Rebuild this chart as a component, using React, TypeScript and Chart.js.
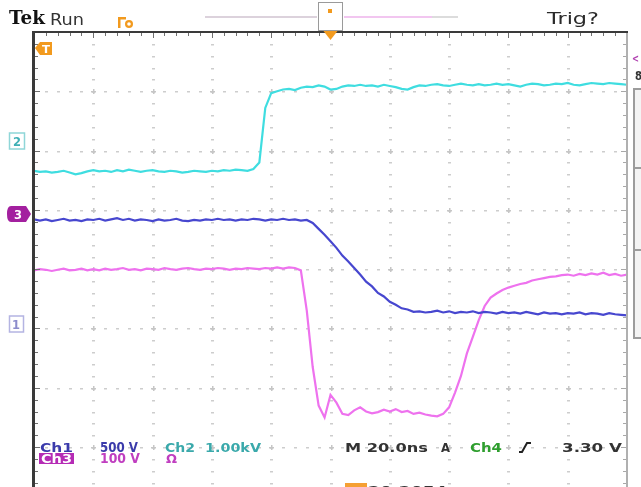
import React, { useEffect, useRef } from "react";
import { Chart, registerables } from "chart.js";

Chart.register(...registerables);

// time axis (ns), 20 ns / division, 10 divisions
const timeNs = [
  0, 2, 4, 6, 8, 10, 12, 14, 16, 18,
  20, 22, 24, 26, 28, 30, 32, 34, 36, 38,
  40, 42, 44, 46, 48, 50, 52, 54, 56, 58,
  60, 62, 64, 66, 68, 70, 72, 74, 76, 78,
  80, 82, 84, 86, 88, 90, 92, 94, 96, 98,
  100, 102, 104, 106, 108, 110, 112, 114, 116, 118,
  120, 122, 124, 126, 128, 130, 132, 134, 136, 138,
  140, 142, 144, 146, 148, 150, 152, 154, 156, 158,
  160, 162, 164, 166, 168, 170, 172, 174, 176, 178,
  180, 182, 184, 186, 188, 190, 192, 194, 196, 198,
  200,
];

// screen position of each trace, in divisions from centre
const ch2Cyan = [
  1.66, 1.64, 1.65, 1.63, 1.64, 1.66, 1.63, 1.60, 1.62, 1.65,
  1.67, 1.65, 1.66, 1.64, 1.67, 1.65, 1.68, 1.66, 1.64, 1.66,
  1.67, 1.65, 1.64, 1.66, 1.65, 1.63, 1.64, 1.66, 1.65, 1.64,
  1.66, 1.65, 1.67, 1.66, 1.68, 1.67, 1.66, 1.69, 1.80, 2.72,
  2.97, 3.00, 3.03, 3.04, 3.02, 3.06, 3.08, 3.07, 3.10, 3.08,
  3.03, 3.04, 3.08, 3.10, 3.09, 3.11, 3.09, 3.10, 3.08, 3.11,
  3.09, 3.07, 3.04, 3.03, 3.07, 3.10, 3.09, 3.11, 3.12, 3.10,
  3.09, 3.11, 3.13, 3.11, 3.10, 3.12, 3.10, 3.11, 3.13, 3.11,
  3.12, 3.10, 3.08, 3.11, 3.13, 3.12, 3.10, 3.11, 3.13, 3.12,
  3.14, 3.11, 3.10, 3.12, 3.14, 3.13, 3.12, 3.14, 3.13, 3.12,
  3.11,
];

const ch1Blue = [
  0.84, 0.82, 0.84, 0.81, 0.83, 0.85, 0.82, 0.83, 0.81, 0.84,
  0.83, 0.85, 0.82, 0.84, 0.86, 0.83, 0.85, 0.82, 0.84, 0.83,
  0.81, 0.84, 0.82, 0.83, 0.85, 0.82, 0.81, 0.83, 0.82, 0.84,
  0.83, 0.85, 0.83, 0.84, 0.82, 0.84, 0.83, 0.85, 0.84, 0.82,
  0.84, 0.83, 0.85, 0.83, 0.84, 0.82, 0.83, 0.78, 0.68, 0.58,
  0.47, 0.36, 0.23, 0.13, 0.02, -0.09, -0.21, -0.29, -0.40, -0.46,
  -0.55, -0.60, -0.66, -0.68, -0.72, -0.71, -0.73, -0.72, -0.70, -0.73,
  -0.71, -0.74, -0.72, -0.73, -0.71, -0.74, -0.72, -0.73, -0.75, -0.72,
  -0.74, -0.73, -0.75, -0.72, -0.74, -0.76, -0.73, -0.75, -0.74, -0.76,
  -0.74, -0.75, -0.73, -0.76, -0.74, -0.75, -0.77, -0.74, -0.76, -0.77,
  -0.78,
];

const ch3Magenta = [
  -0.02, 0.00, -0.01, -0.03, -0.01, 0.01, -0.02, -0.01, 0.01, -0.02,
  0.00, -0.02, 0.01, -0.01, 0.00, 0.02, -0.01, 0.00, -0.02, 0.01,
  0.00, -0.01, 0.02, 0.00, -0.01, 0.01, 0.02, 0.00, -0.01, 0.01,
  0.00, 0.02, 0.01, -0.01, 0.01, 0.00, 0.02, 0.01, 0.00, 0.02,
  0.01, 0.03, 0.01, 0.03, 0.02, -0.02, -0.70, -1.65, -2.30, -2.50,
  -2.12, -2.25, -2.44, -2.46, -2.38, -2.33, -2.40, -2.43, -2.41, -2.37,
  -2.40, -2.36, -2.41, -2.39, -2.44, -2.42, -2.45, -2.47, -2.48, -2.44,
  -2.33, -2.08, -1.80, -1.42, -1.14, -0.86, -0.62, -0.48, -0.41, -0.35,
  -0.31, -0.28, -0.25, -0.23, -0.19, -0.17, -0.15, -0.13, -0.12, -0.10,
  -0.09, -0.11, -0.08, -0.10, -0.07, -0.09, -0.06, -0.10, -0.08, -0.11,
  -0.09,
];

const X_MIN = 0;
const X_MAX = 200;
const Y_MAX = 4;
const Y_MIN = -3.673;

// draw text stretched horizontally to a target width
function fit(ctx: CanvasRenderingContext2D, s: string, x: number, y: number, w: number, font: string, color: string) {
  ctx.save();
  ctx.font = font;
  ctx.fillStyle = color;
  ctx.textBaseline = "alphabetic";
  ctx.textAlign = "left";
  const m = ctx.measureText(s).width;
  ctx.translate(x, y);
  ctx.scale(w / m, 1);
  ctx.fillText(s, 0, 0);
  ctx.restore();
}

const graticule = {
  id: "graticule",
  beforeDatasetsDraw(chart: any) {
    const { ctx, chartArea: a, scales } = chart;
    const xs = scales.x;
    const ys = scales.y;
    ctx.save();
    ctx.fillStyle = "#cdcdcd";
    for (let k = 1; k < 10; k++) {
      const px = Math.round(xs.getPixelForValue(k * 20));
      for (let m = -18; m <= 20; m++) {
        const py = Math.round(ys.getPixelForValue(m / 5));
        if (py < a.top + 3) continue;
        ctx.fillRect(px - 1, py, 3, 1.5);
      }
    }
    for (let j = -3; j <= 3; j++) {
      const py = Math.round(ys.getPixelForValue(j));
      for (let m = 1; m < 50; m++) {
        const px = Math.round(xs.getPixelForValue(m * 4));
        ctx.fillRect(px - 1, py, 3, 1.5);
      }
    }
    ctx.fillStyle = "#c6c6c6";
    for (let k = 1; k < 10; k++) {
      for (let j = -3; j <= 3; j++) {
        const px = Math.round(xs.getPixelForValue(k * 20));
        const py = Math.round(ys.getPixelForValue(j));
        ctx.fillRect(px - 2, py, 5, 1.5);
        ctx.fillRect(px, py - 2, 1.5, 5);
      }
    }
    ctx.restore();
  },
  afterDatasetsDraw(chart: any) {
    const { ctx, chartArea: a, scales } = chart;
    const xs = scales.x;
    const ys = scales.y;
    ctx.save();
    ctx.lineWidth = 1;
    for (let m = -18; m <= 20; m++) {
      const py = Math.round(ys.getPixelForValue(m / 5)) + 0.5;
      const len = m % 5 === 0 ? 6 : 4;
      ctx.strokeStyle = "#707070";
      ctx.beginPath();
      ctx.moveTo(a.left, py);
      ctx.lineTo(a.left + len, py);
      ctx.stroke();
      ctx.strokeStyle = "#a8a8a8";
      ctx.beginPath();
      ctx.moveTo(a.right, py);
      ctx.lineTo(a.right - len, py);
      ctx.stroke();
    }
    ctx.strokeStyle = "#707070";
    for (let m = 0; m <= 50; m++) {
      const px = Math.round(xs.getPixelForValue(m * 4)) + 0.5;
      const len = m % 5 === 0 ? 6 : 4;
      ctx.beginPath();
      ctx.moveTo(px, a.top);
      ctx.lineTo(px, a.top + len);
      ctx.stroke();
    }
    ctx.strokeStyle = "#b0b0b0";
    ctx.lineWidth = 2;
    ctx.beginPath();
    ctx.moveTo(a.right, a.top);
    ctx.lineTo(a.right, a.bottom);
    ctx.stroke();
    ctx.strokeStyle = "#3a3a3a";
    ctx.lineWidth = 2;
    ctx.beginPath();
    ctx.moveTo(a.right + 1, a.top);
    ctx.lineTo(a.left, a.top);
    ctx.stroke();
    ctx.lineWidth = 3;
    ctx.beginPath();
    ctx.moveTo(a.left - 0.5, a.top - 1);
    ctx.lineTo(a.left - 0.5, a.bottom);
    ctx.stroke();
    ctx.restore();
  },
  afterDraw(chart: any) {
    const { ctx, scales } = chart;
    const xs = scales.x;
    const F = "'DejaVu Sans', sans-serif";
    ctx.save();

    // ---- top bar ----
    fit(ctx, "Tek", 9, 24, 36, `bold 18px 'DejaVu Serif', serif`, "#111");
    fit(ctx, "Run", 50, 25, 34, `15px ${F}`, "#333");
    ctx.fillStyle = "#f29a1e";
    ctx.fillRect(118, 17, 2.5, 11);
    ctx.fillRect(118, 17, 8, 2.5);
    ctx.beginPath();
    ctx.arc(129, 24, 4, 0, Math.PI * 2);
    ctx.fill();
    ctx.fillStyle = "#fff";
    ctx.beginPath();
    ctx.arc(129, 24, 1.8, 0, Math.PI * 2);
    ctx.fill();
    ctx.fillStyle = "#dcd2dc";
    ctx.fillRect(205, 16, 112, 2);
    ctx.fillStyle = "#f2c6f0";
    ctx.fillRect(344, 16, 88, 2);
    ctx.fillStyle = "#dcdcdc";
    ctx.fillRect(432, 16, 26, 2);
    ctx.strokeStyle = "#9a9a9a";
    ctx.lineWidth = 1;
    ctx.strokeRect(318.5, 2.5, 24, 28);
    ctx.fillStyle = "#f29a1e";
    ctx.fillRect(328, 9, 4, 4);
    const tx = xs.getPixelForValue(100);
    ctx.beginPath();
    ctx.moveTo(tx - 7, 31);
    ctx.lineTo(tx + 7, 31);
    ctx.lineTo(tx, 40);
    ctx.closePath();
    ctx.fill();
    fit(ctx, "Trig?", 547, 24, 52, `16px ${F}`, "#2a2a2a");

    // right-hand menu stub
    fit(ctx, "<", 632, 62, 7, `bold 11px ${F}`, "#b040b0");
    fit(ctx, "8", 635, 80, 7, `bold 12px ${F}`, "#333");
    ctx.fillStyle = "#f4f4f4";
    ctx.fillRect(634, 89, 8, 249);
    ctx.strokeStyle = "#9c9c9c";
    ctx.lineWidth = 2;
    ctx.beginPath();
    ctx.moveTo(642, 89);
    ctx.lineTo(634, 89);
    ctx.lineTo(634, 338);
    ctx.lineTo(642, 338);
    ctx.moveTo(634, 168);
    ctx.lineTo(642, 168);
    ctx.moveTo(634, 250);
    ctx.lineTo(642, 250);
    ctx.stroke();

    // trigger level marker
    ctx.fillStyle = "#f29a1e";
    ctx.beginPath();
    ctx.moveTo(35, 48);
    ctx.lineTo(40, 42);
    ctx.lineTo(52, 42);
    ctx.lineTo(52, 55);
    ctx.lineTo(40, 55);
    ctx.closePath();
    ctx.fill();
    fit(ctx, "T", 42, 53, 8, `bold 11px ${F}`, "#fff");

    // channel markers
    const y2 = 141;
    ctx.strokeStyle = "#8fd6d8";
    ctx.lineWidth = 1.5;
    ctx.fillStyle = "#fff";
    ctx.fillRect(9, y2 - 8, 16, 16);
    ctx.strokeRect(9.5, y2 - 8, 15, 16);
    fit(ctx, "2", 13, y2 + 5, 8, `bold 12px ${F}`, "#3fb0b6");

    const y3 = 214;
    ctx.fillStyle = "#a3209f";
    ctx.beginPath();
    ctx.moveTo(11, y3 - 8);
    ctx.lineTo(26, y3 - 8);
    ctx.lineTo(31, y3);
    ctx.lineTo(26, y3 + 8);
    ctx.lineTo(11, y3 + 8);
    ctx.quadraticCurveTo(7, y3 + 8, 7, y3);
    ctx.quadraticCurveTo(7, y3 - 8, 11, y3 - 8);
    ctx.fill();
    fit(ctx, "3", 14, y3 + 5, 8, `bold 12px ${F}`, "#fff");

    const y1 = 324;
    ctx.strokeStyle = "#b4b4e2";
    ctx.lineWidth = 1.5;
    ctx.strokeRect(9.5, y1 - 8, 14, 16);
    fit(ctx, "1", 12, y1 + 5, 8, `bold 12px ${F}`, "#8c8ccc");

    // ---- bottom readouts ----
    const B = `bold 13px ${F}`;
    fit(ctx, "Ch1", 40, 452, 33, B, "#3b3bab");
    fit(ctx, "500 V", 100, 452, 38, `bold 13.5px ${F}`, "#3b3bab");
    fit(ctx, "Ch2", 165, 452, 30, B, "#3aa9ab");
    fit(ctx, "1.00kV", 205, 452, 56, B, "#3aa9ab");
    fit(ctx, "M 20.0ns", 345, 452, 83, B, "#333");
    fit(ctx, "A", 441, 452, 9, B, "#333");
    fit(ctx, "Ch4", 470, 452, 32, B, "#2e9e2e");
    ctx.strokeStyle = "#222";
    ctx.lineWidth = 2;
    ctx.beginPath();
    ctx.moveTo(519, 452);
    ctx.lineTo(522, 452);
    ctx.lineTo(527, 443);
    ctx.lineTo(531, 443);
    ctx.stroke();
    fit(ctx, "3.30 V", 562, 452, 60, B, "#333");

    ctx.fillStyle = "#b52bb5";
    ctx.fillRect(39, 453, 35, 11);
    fit(ctx, "Ch3", 41, 463, 31, `bold 12px ${F}`, "#fff");
    fit(ctx, "100 V", 100, 463, 40, `bold 13.5px ${F}`, "#c03ec0");
    fit(ctx, "Ω", 166, 463, 11, B, "#c03ec0");

    ctx.fillStyle = "#f5a033";
    ctx.fillRect(345, 483, 22, 6);
    fit(ctx, "20.2054μs", 368, 495, 102, B, "#333");

    ctx.restore();
  },
};

export default function App() {
  const ref = useRef<HTMLCanvasElement>(null);
  useEffect(() => {
    document.body.style.margin = "0";
    const canvas = ref.current!;
    const chart = new Chart(canvas, {
      type: "line",
      data: {
        datasets: [
          {
            label: "Ch1",
            data: timeNs.map((t, i) => ({ x: t, y: ch1Blue[i] })),
            borderColor: "#4747cf",
            borderWidth: 2.2,
          },
          {
            label: "Ch3",
            data: timeNs.map((t, i) => ({ x: t, y: ch3Magenta[i] })),
            borderColor: "#ee72ee",
            borderWidth: 2.2,
          },
          {
            label: "Ch2",
            data: timeNs.map((t, i) => ({ x: t, y: ch2Cyan[i] })),
            borderColor: "#3fdde0",
            borderWidth: 2.2,
          },
        ],
      },
      options: {
        responsive: false,
        animation: false,
        devicePixelRatio: 1,
        layout: { padding: { left: 34, top: 32, right: 14, bottom: 0 } },
        scales: {
          x: { type: "linear", min: X_MIN, max: X_MAX, display: false },
          y: { type: "linear", min: Y_MIN, max: Y_MAX, display: false },
        },
        elements: { point: { radius: 0 }, line: { tension: 0 } },
        plugins: { legend: { display: false }, tooltip: { enabled: false } },
      },
      plugins: [graticule],
    });
    return () => chart.destroy();
  }, []);
  return (
    <div style={{ width: 641, height: 487, background: "#fff", overflow: "hidden" }}>
      <canvas ref={ref} width={641} height={487} style={{ display: "block" }} />
    </div>
  );
}
